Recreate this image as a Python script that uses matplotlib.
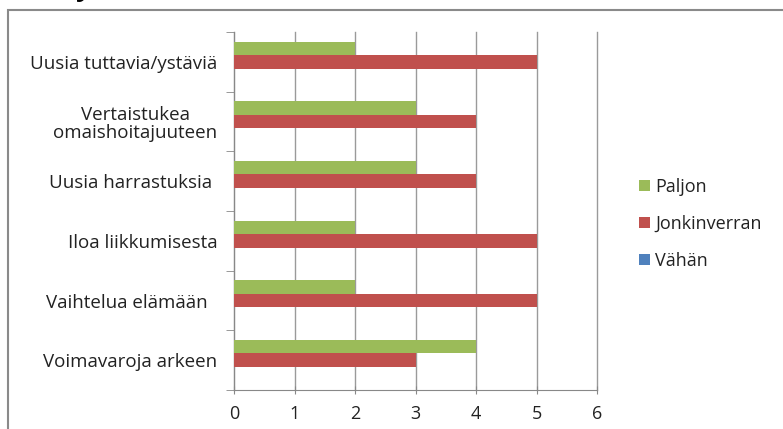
import numpy as np
import matplotlib.pyplot as plt
from matplotlib.patches import Rectangle

categories = ['Voimavaroja arkeen', 'Vaihtelua elämään  ', 'Iloa liikkumisesta',
              'Uusia harrastuksia ', 'Vertaistukea\nomaishoitajuuteen',
              'Uusia tuttavia/ystäviä']
vahan = [0, 0, 0, 0, 0, 0]
jonkinverran = [3, 5, 5, 4, 4, 5]
paljon = [4, 2, 2, 3, 3, 2]

series = [('Vähän', vahan, '#4F81BD'),
          ('Jonkinverran', jonkinverran, '#C0504D'),
          ('Paljon', paljon, '#9BBB59')]

plt.rcParams['font.family'] = ['Open Sans', 'DejaVu Sans']

fig = plt.figure(figsize=(7.83, 4.29), dpi=100)
ax = fig.add_axes([0.2989, 0.0909, 0.4636, 0.8345])

y = np.arange(len(categories))
h = 0.225
for i, (name, vals, col) in enumerate(series):
    ax.barh(y + (i - 1) * h, vals, height=h, color=col, label=name, zorder=3)

ax.set_xlim(0, 6)
ax.set_ylim(-0.5, len(categories) - 0.5)
ax.set_xticks(range(7))
ax.set_yticks(y)
ax.set_yticklabels(categories, fontsize=13.5, color='#222222', linespacing=1.0)
for lab in ax.get_yticklabels():
    lab.set_multialignment('center')
ax.set_yticks(np.arange(-0.5, len(categories), 1), minor=True)
ax.tick_params(axis='y', which='major', length=0, pad=12)
ax.tick_params(axis='y', which='minor', length=6, color='#888888', direction='out')
ax.tick_params(axis='x', length=6, color='#888888', direction='inout', labelsize=13,
               labelcolor='#222222', pad=8)
ax.grid(axis='x', color='#9a9a9a', linewidth=1, zorder=0)
for gl in ax.get_xgridlines():
    gl.set_clip_on(False)
for s in ['top', 'right']:
    ax.spines[s].set_visible(False)
for s in ['left', 'bottom']:
    ax.spines[s].set_color('#888888')

handles, labels = ax.get_legend_handles_labels()
ax.legend(handles[::-1], labels[::-1], loc='center left', bbox_to_anchor=(1.07, 0.464),
          frameon=False, fontsize=13, handlelength=0.6, handleheight=0.6,
          handletextpad=0.3, labelspacing=1.05, labelcolor='#222222')

# outer chart frame
fig.patches.append(Rectangle((8 / 783, -0.1), 1.2, 1 - 10 / 429 + 0.1,
                             transform=fig.transFigure, fill=False,
                             edgecolor='#8a8a8a', linewidth=1.5))
fig.text(84 / 783, 1.03, 'y', fontsize=20, fontweight='bold', ha='center', va='center')

fig.savefig('out.png', dpi=100)
